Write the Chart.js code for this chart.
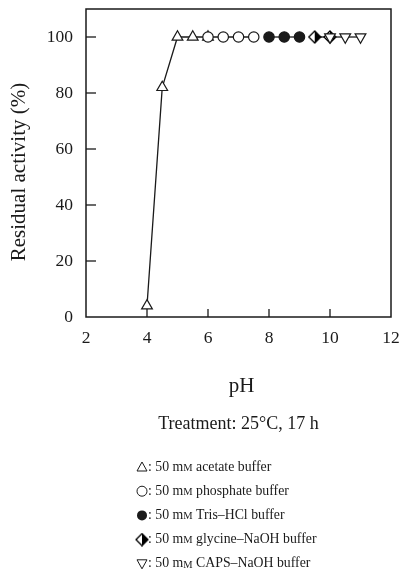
<!DOCTYPE html>
<html><head><meta charset="utf-8">
<script src="https://cdn.jsdelivr.net/npm/chart.js@4/dist/chart.umd.min.js"></script>
<style>html,body{margin:0;padding:0;background:#fff}#wrap{width:401px;height:574px;position:relative}</style>
</head><body><div id="wrap"><canvas id="c" width="401" height="574"></canvas></div>
<script>
const acetatePH = [4, 4.5, 5, 5.5, 6];
const acetateAct = [4, 82, 100, 100, 100];
const phosphatePH = [6, 6.5, 7, 7.5];
const phosphateAct = [100, 100, 100, 100];
const trisPH = [8, 8.5, 9];
const trisAct = [100, 100, 100];
const glycinePH = [9.5, 10];
const glycineAct = [100, 100];
const capsPH = [10, 10.5, 11];
const capsAct = [100, 100, 100];
const xTicks = [2, 4, 6, 8, 10, 12];
const yTicks = [0, 20, 40, 60, 80, 100];
const xTitle = 'pH';
const yTitle = 'Residual activity (%)';
const treatment = 'Treatment: 25°C, 17 h';
const legendItems = [
  ['tri', 'acetate buffer'],
  ['circ', 'phosphate buffer'],
  ['dot', 'Tris–HCl buffer'],
  ['half', 'glycine–NaOH buffer'],
  ['tridown', 'CAPS–NaOH buffer']
];

const SERIF = '"Liberation Serif","DejaVu Serif",serif';
const INK = '#1a1a1a';

function halfDiamond(size) {
  const c = document.createElement('canvas');
  c.width = size; c.height = size;
  const g = c.getContext('2d');
  const m = size / 2, r = size / 2 - 1;
  g.beginPath(); g.moveTo(m, m - r); g.lineTo(m + r, m); g.lineTo(m, m + r); g.lineTo(m - r, m); g.closePath();
  g.fillStyle = '#fff'; g.fill();
  g.beginPath(); g.moveTo(m, m - r); g.lineTo(m + r, m); g.lineTo(m, m + r); g.closePath();
  g.fillStyle = '#000'; g.fill();
  g.beginPath(); g.moveTo(m, m - r); g.lineTo(m + r, m); g.lineTo(m, m + r); g.lineTo(m - r, m); g.closePath();
  g.strokeStyle = '#000'; g.lineWidth = 1.3; g.stroke();
  return c;
}
const halfImg = halfDiamond(14);

function pts(xs, ys) { return xs.map((x, i) => ({x: x, y: ys[i]})); }

function ds(label, xs, ys, style, fill, rot) {
  return {
    label: label, data: pts(xs, ys), showLine: true,
    borderColor: INK, borderWidth: 1.3,
    pointStyle: style, pointRadius: style === 'circle' ? 5.2 : 6.2,
    pointRotation: rot || 0,
    pointBackgroundColor: fill, pointBorderColor: INK, pointBorderWidth: 1.2
  };
}

function drawSym(g, kind, x, y) {
  g.save(); g.strokeStyle = INK; g.fillStyle = INK; g.lineWidth = 1;
  const r = 5;
  if (kind === 'tri') { g.beginPath(); g.moveTo(x, y - r); g.lineTo(x + r, y + r * 0.8); g.lineTo(x - r, y + r * 0.8); g.closePath(); g.stroke(); }
  else if (kind === 'tridown') { g.beginPath(); g.moveTo(x, y + r); g.lineTo(x + r, y - r * 0.8); g.lineTo(x - r, y - r * 0.8); g.closePath(); g.stroke(); }
  else if (kind === 'circ') { g.beginPath(); g.arc(x, y, r, 0, Math.PI * 2); g.stroke(); }
  else if (kind === 'dot') { g.beginPath(); g.arc(x, y, r, 0, Math.PI * 2); g.fill(); }
  else if (kind === 'half') { g.drawImage(halfImg, x - 7, y - 7); }
  g.restore();
}

const extras = {
  id: 'extras',
  afterDraw(chart) {
    const g = chart.ctx, a = chart.chartArea, xs = chart.scales.x, ys = chart.scales.y;
    g.save();
    g.strokeStyle = INK; g.lineWidth = 1.5;
    g.strokeRect(a.left, a.top, a.right - a.left, a.bottom - a.top);
    g.lineWidth = 1.3;
    xTicks.forEach(v => { const p = xs.getPixelForValue(v); if (p > a.left + 1 && p < a.right - 1) { g.beginPath(); g.moveTo(p, a.bottom); g.lineTo(p, a.bottom - 8); g.stroke(); } });
    yTicks.forEach(v => { const p = ys.getPixelForValue(v); if (p < a.bottom - 1) { g.beginPath(); g.moveTo(a.left, p); g.lineTo(a.left + 10, p); g.stroke(); } });
    g.fillStyle = INK;
    g.textAlign = 'center'; g.textBaseline = 'middle';
    g.font = '21px ' + SERIF;
    g.save(); g.translate(19, 172); g.rotate(-Math.PI / 2); g.fillText(yTitle, 0, 0); g.restore();
    g.font = '21px ' + SERIF;
    g.fillText(xTitle, (a.left + a.right) / 2 + 3, 386);
    g.font = '18px ' + SERIF;
    g.fillText(treatment, (a.left + a.right) / 2, 424);
    g.textAlign = 'left';
    legendItems.forEach((it, i) => {
      const y = 467 + i * 24.2;
      drawSym(g, it[0], 142, y);
      let x = 148;
      g.font = '13.8px ' + SERIF;
      const s1 = ': 50 m'; g.fillText(s1, x, y); x += g.measureText(s1).width;
      g.font = '10.5px ' + SERIF;
      const s2 = 'M'; g.fillText(s2, x, y + 1); x += g.measureText(s2).width;
      g.font = '13.8px ' + SERIF;
      g.fillText(' ' + it[1], x, y);
    });
    g.restore();
  }
};

new Chart(document.getElementById('c'), {
  type: 'scatter',
  data: { datasets: [
    ds('phosphate', phosphatePH, phosphateAct, 'circle', '#fff'),
    ds('acetate', acetatePH, acetateAct, 'triangle', '#fff'),
    ds('Tris', trisPH, trisAct, 'circle', INK),
    ds('CAPS', capsPH, capsAct, 'triangle', '#fff', 180),
    ds('glycine', glycinePH, glycineAct, halfImg, INK)
  ]},
  options: {
    responsive: false, animation: false, devicePixelRatio: 1,
    layout: { padding: { left: 0, right: 10, top: 9, bottom: 0 } },
    plugins: { legend: { display: false }, tooltip: { enabled: false } },
    scales: {
      x: {
        type: 'linear', min: 2, max: 12,
        afterBuildTicks: s => { s.ticks = xTicks.map(v => ({value: v})); },
        afterFit: s => { s.height = 574 - 317; s.paddingLeft = 0; s.paddingRight = 0; },
        grid: { display: false, drawTicks: false },
        border: { display: false },
        ticks: { color: INK, font: { family: SERIF, size: 17.5 }, padding: 11, maxRotation: 0 }
      },
      y: {
        type: 'linear', min: 0, max: 110,
        afterBuildTicks: s => { s.ticks = yTicks.map(v => ({value: v})); },
        afterFit: s => { s.width = 86; s.paddingTop = 0; s.paddingBottom = 0; },
        grid: { display: false, drawTicks: false },
        border: { display: false },
        ticks: { color: INK, font: { family: SERIF, size: 17.5 }, padding: 13 }
      }
    }
  },
  plugins: [extras]
});
</script></body></html>
